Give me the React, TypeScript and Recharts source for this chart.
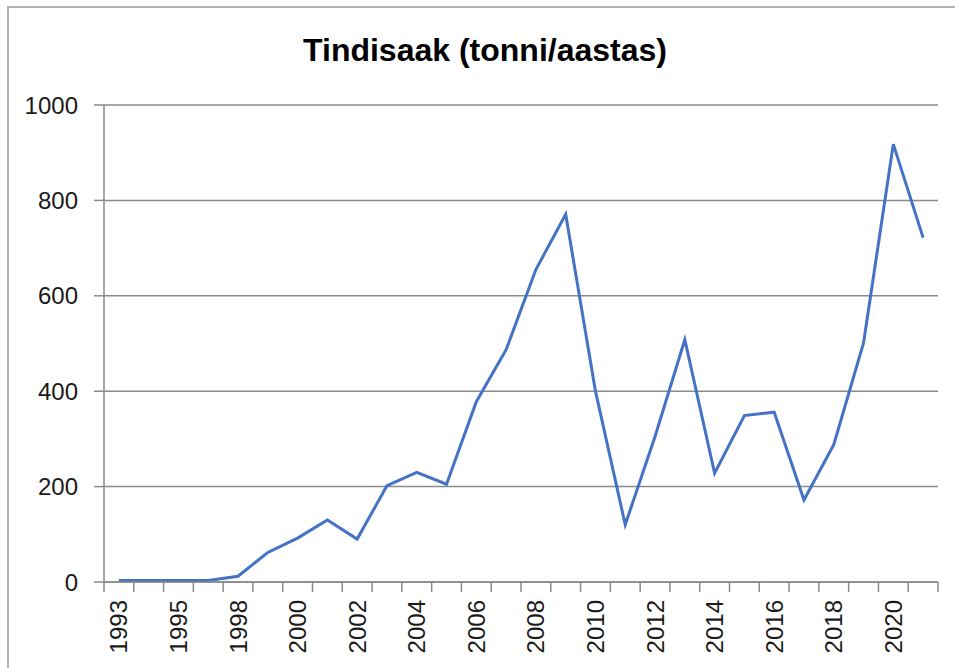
import { LineChart, Line, XAxis, YAxis, CartesianGrid } from 'recharts';

const years = [
  '1993', '1994', '1995', '1996', '1998', '1999', '2000', '2001', '2002', '2003',
  '2004', '2005', '2006', '2007', '2008', '2009', '2010', '2011', '2012', '2013',
  '2014', '2015', '2016', '2017', '2018', '2019', '2020', '2021',
];
const tonnes = [
  3, 3, 3, 3, 12, 62, 92, 130, 90, 202,
  230, 205, 378, 487, 655, 771, 400, 120, 305, 508,
  228, 349, 356, 172, 288, 501, 918, 722,
];
const yTicks = [0, 200, 400, 600, 800, 1000];

const data = years.map((year, i) => ({ i, year, value: tonnes[i] }));

// tick marks sit between categories, labels on every second category
const xTicks: number[] = [];
for (let k = 0; k <= years.length; k++) xTicks.push(k - 0.5);
for (let k = 0; k < years.length; k += 2) xTicks.push(k);

const FONT = '"Liberation Sans", Arial, sans-serif';
const GRID = '#8a8a8a';

function YearTick(props: any) {
  const { x, y, payload } = props;
  const v = payload.value as number;
  if (!Number.isInteger(v)) {
    return <line x1={x} y1={y} x2={x} y2={y + 10} stroke={GRID} strokeWidth={1.5} />;
  }
  return (
    <text
      x={x}
      y={y + 18}
      transform={`rotate(-90, ${x}, ${y + 18})`}
      textAnchor="end"
      dominantBaseline="central"
      fontSize={24}
      fontFamily={FONT}
      fill="#1a1a1a"
    >
      {years[v]}
    </text>
  );
}

export default function App() {
  return (
    <div style={{ position: 'absolute', left: 0, top: 0, width: 955, height: 668, background: '#fff', overflow: 'hidden' }}>
      <div
        style={{
          position: 'absolute', left: 7, top: 6, width: 1000, height: 700,
          borderLeft: '2px solid #b4b4b4', borderTop: '2px solid #b4b4b4',
        }}
      />
      <div
        style={{
          position: 'absolute', left: 0, top: 30, width: 970, textAlign: 'center',
          fontFamily: FONT, fontWeight: 'bold', fontSize: 32, color: '#000', lineHeight: '40px',
        }}
      >
        Tindisaak (tonni/aastas)
      </div>
      <LineChart
        width={955}
        height={668}
        data={data}
        margin={{ top: 105, right: 17, left: 0, bottom: 0 }}
        style={{ position: 'absolute', left: 0, top: 0 }}
      >
        <CartesianGrid horizontal vertical={false} stroke={GRID} strokeWidth={1.5} />
        <XAxis
          dataKey="i"
          type="number"
          domain={[-0.5, years.length - 0.5]}
          ticks={xTicks}
          interval={0}
          height={86}
          tickSize={0}
          tickMargin={0}
          tickLine={false}
          axisLine={{ stroke: GRID, strokeWidth: 1.5 }}
          tick={(p: any) => <YearTick {...p} />}
        />
        <YAxis
          domain={[0, 1000]}
          ticks={yTicks}
          width={104}
          tickSize={10}
          tickMargin={16}
          axisLine={{ stroke: GRID, strokeWidth: 1.5 }}
          tickLine={{ stroke: GRID, strokeWidth: 1.5 }}
          tick={{ fontSize: 24, fontFamily: FONT, fill: '#1a1a1a' }}
        />
        <Line
          dataKey="value"
          stroke="#4472C4"
          strokeWidth={3}
          dot={false}
          isAnimationActive={false}
        />
      </LineChart>
    </div>
  );
}
